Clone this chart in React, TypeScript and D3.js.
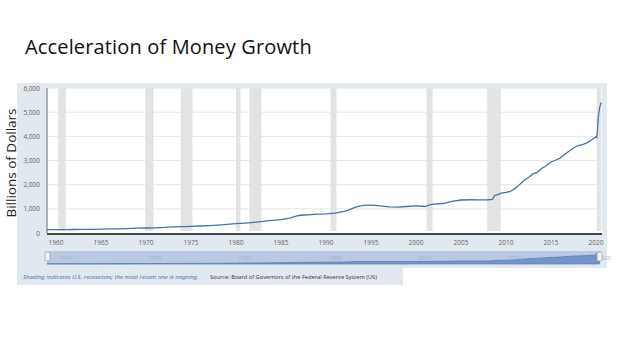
import React from 'react'
import * as d3 from 'd3'

// M1 money stock, billions of dollars
const dates = [
  '1959-01', '1960-01', '1961-01', '1962-01', '1963-01', '1964-01', '1965-01', '1966-01',
  '1967-01', '1968-01', '1969-01', '1970-01', '1971-01', '1972-01', '1973-01', '1974-01',
  '1975-01', '1976-01', '1977-01', '1978-01', '1979-01', '1980-01', '1981-01', '1982-01',
  '1983-01', '1984-01', '1985-01', '1986-01', '1986-07', '1987-01', '1987-07', '1988-01',
  '1989-01', '1990-01', '1991-01', '1992-01', '1992-07', '1993-01', '1993-07', '1994-01',
  '1994-07', '1995-01', '1995-07', '1996-01', '1997-01', '1998-01', '1999-01', '2000-01',
  '2001-01', '2001-07', '2002-01', '2003-01', '2004-01', '2005-01', '2006-01', '2007-01',
  '2008-01', '2008-07', '2008-10', '2009-01', '2009-07', '2010-01', '2010-07', '2011-01',
  '2011-07', '2012-01', '2012-07', '2013-01', '2013-07', '2014-01', '2014-07', '2015-01',
  '2015-07', '2016-01', '2016-07', '2017-01', '2017-07', '2018-01', '2018-07', '2019-01',
  '2019-07', '2020-01', '2020-02', '2020-03', '2020-04', '2020-05', '2020-06', '2020-07',
  '2020-08',
]
const values = [
  138, 140, 141, 145, 148, 153, 160, 168,
  171, 184, 198, 206, 215, 235, 252, 265,
  275, 289, 306, 330, 355, 385, 410, 442,
  477, 522, 555, 620, 680, 725, 745, 750,
  785, 795, 826, 897, 950, 1030, 1090, 1131,
  1150, 1150, 1140, 1122, 1080, 1073, 1096, 1122,
  1096, 1160, 1191, 1220, 1305, 1365, 1375, 1368,
  1375, 1390, 1560, 1580, 1650, 1680, 1720, 1845,
  2000, 2170, 2300, 2445, 2520, 2680, 2790, 2940,
  3010, 3100, 3250, 3380, 3520, 3620, 3660, 3730,
  3850, 3980, 3950, 4250, 4780, 5000, 5200, 5300,
  5400,
]

// NBER recessions
const recStart = ['1960-04', '1969-12', '1973-11', '1980-01', '1981-07', '1990-07', '2001-03', '2007-12', '2020-02']
const recEnd = ['1961-02', '1970-11', '1975-03', '1980-07', '1982-11', '1991-03', '2001-11', '2009-06', '2020-08']

const yTicks = [0, 1000, 2000, 3000, 4000, 5000, 6000]
const xTickYears = [1960, 1965, 1970, 1975, 1980, 1985, 1990, 1995, 2000, 2005, 2010, 2015, 2020]
const navYears = [1960, 1970, 1980, 1990, 2000, 2010, 2020]

const parse = d3.timeParse('%Y-%m')
const data = dates.map((d, i) => ({date: parse(d) as Date, value: values[i]}))

const font = "'Open Sans', sans-serif"

function App() {
  const left = 47
  const right = 602
  const top = 88
  const bottom = 233

  const x = d3.scaleTime()
    .domain([new Date(1959, 0, 1), new Date(2020, 8, 1)])
    .range([left, right])
  const y = d3.scaleLinear().domain([0, 6000]).range([bottom, top])

  const line = d3.line<{date: Date; value: number}>()
    .x(d => x(d.date))
    .y(d => y(d.value))

  const navTop = 251
  const navBottom = 264
  const nx = d3.scaleTime().domain(x.domain()).range([47, 600])
  const ny = d3.scaleLinear().domain([0, 5400]).range([navBottom, navTop + 1])
  const navArea = d3.area<{date: Date; value: number}>()
    .x(d => nx(d.date))
    .y0(navBottom)
    .y1(d => ny(d.value))

  return (
    <svg width={624} height={351} style={{position: 'absolute', left: 0, top: 0}}>
      <rect width={624} height={351} fill="#fff" />
      <text x={25} y={54} fontFamily={font} fontSize={20} letterSpacing={0.15} fill="#111" fontWeight={400}>
        Acceleration of Money Growth
      </text>

      {/* panel */}
      <rect x={17} y={83} width={590} height={185} fill="#e1e8f0" />
      <rect x={17} y={268} width={386} height={17} fill="#e1e8f0" />
      <rect x={left} y={top} width={right - left} height={bottom - top} fill="#fff" />

      {/* gridlines */}
      {yTicks.slice(1).map(t => (
        <line key={t} x1={left} x2={right} y1={y(t)} y2={y(t)} stroke="#e6e6e6" strokeWidth={1} />
      ))}

      {/* recessions */}
      {recStart.map((s, i) => {
        const x0 = x(parse(s) as Date)
        const x1 = x(parse(recEnd[i]) as Date)
        return <rect key={s} x={x0} y={top} width={Math.max(x1 - x0, 2)} height={bottom - top - 2} fill="#e3e3e3" />
      })}

      {/* y labels */}
      {yTicks.map(t => (
        <text key={t} x={40} y={y(t) + 2.5} textAnchor="end" fontFamily={font} fontSize={6.5} fill="#666">
          {d3.format(',')(t)}
        </text>
      ))}
      <line x1={left} x2={left} y1={top} y2={bottom} stroke="#999" strokeWidth={1.5} />
      <line x1={left} x2={right} y1={bottom + 1} y2={bottom + 1} stroke="#111" strokeWidth={1.5} />

      {/* x labels */}
      {xTickYears.map(yr => (
        <text key={yr} x={x(new Date(yr, 0, 1))} y={245} textAnchor="middle" fontFamily={font} fontSize={6.5} fill="#666">
          {yr}
        </text>
      ))}

      <path d={line(data) as string} fill="none" stroke="#4572a7" strokeWidth={1.3} />

      <text transform="translate(16,163) rotate(-90)" textAnchor="middle" fontFamily={font} fontSize={13.5} fill="#222">
        Billions of Dollars
      </text>

      {/* navigator */}
      <rect x={47} y={navTop} width={553} height={navBottom - navTop} fill="#b9c9e2" />
      <path d={navArea(data) as string} fill="#7495c8" stroke="#5b7fb8" strokeWidth={0.8} />
      {navYears.map(yr => (
        <text key={yr} x={nx(new Date(yr, 0, 1)) + 3} y={260} fontFamily={font} fontSize={6} fill="#9cb0d2">
          {yr}
        </text>
      ))}
      <rect x={45} y={252} width={5} height={9} fill="#f2f2f2" stroke="#999" strokeWidth={0.7} rx={1} />
      <rect x={597} y={252} width={5} height={9} fill="#f2f2f2" stroke="#999" strokeWidth={0.7} rx={1} />

      {/* notes */}
      <text x={23} y={279} fontFamily={font} fontSize={6.1} fontStyle="italic" fill="#4a6fa5">
        Shading indicates U.S. recessions; the most recent one is ongoing.
      </text>
      <text x={210} y={279} fontFamily={font} fontSize={5.7} fill="#333">
        Source: Board of Governors of the Federal Reserve System (US)
      </text>
    </svg>
  )
}

export default App
